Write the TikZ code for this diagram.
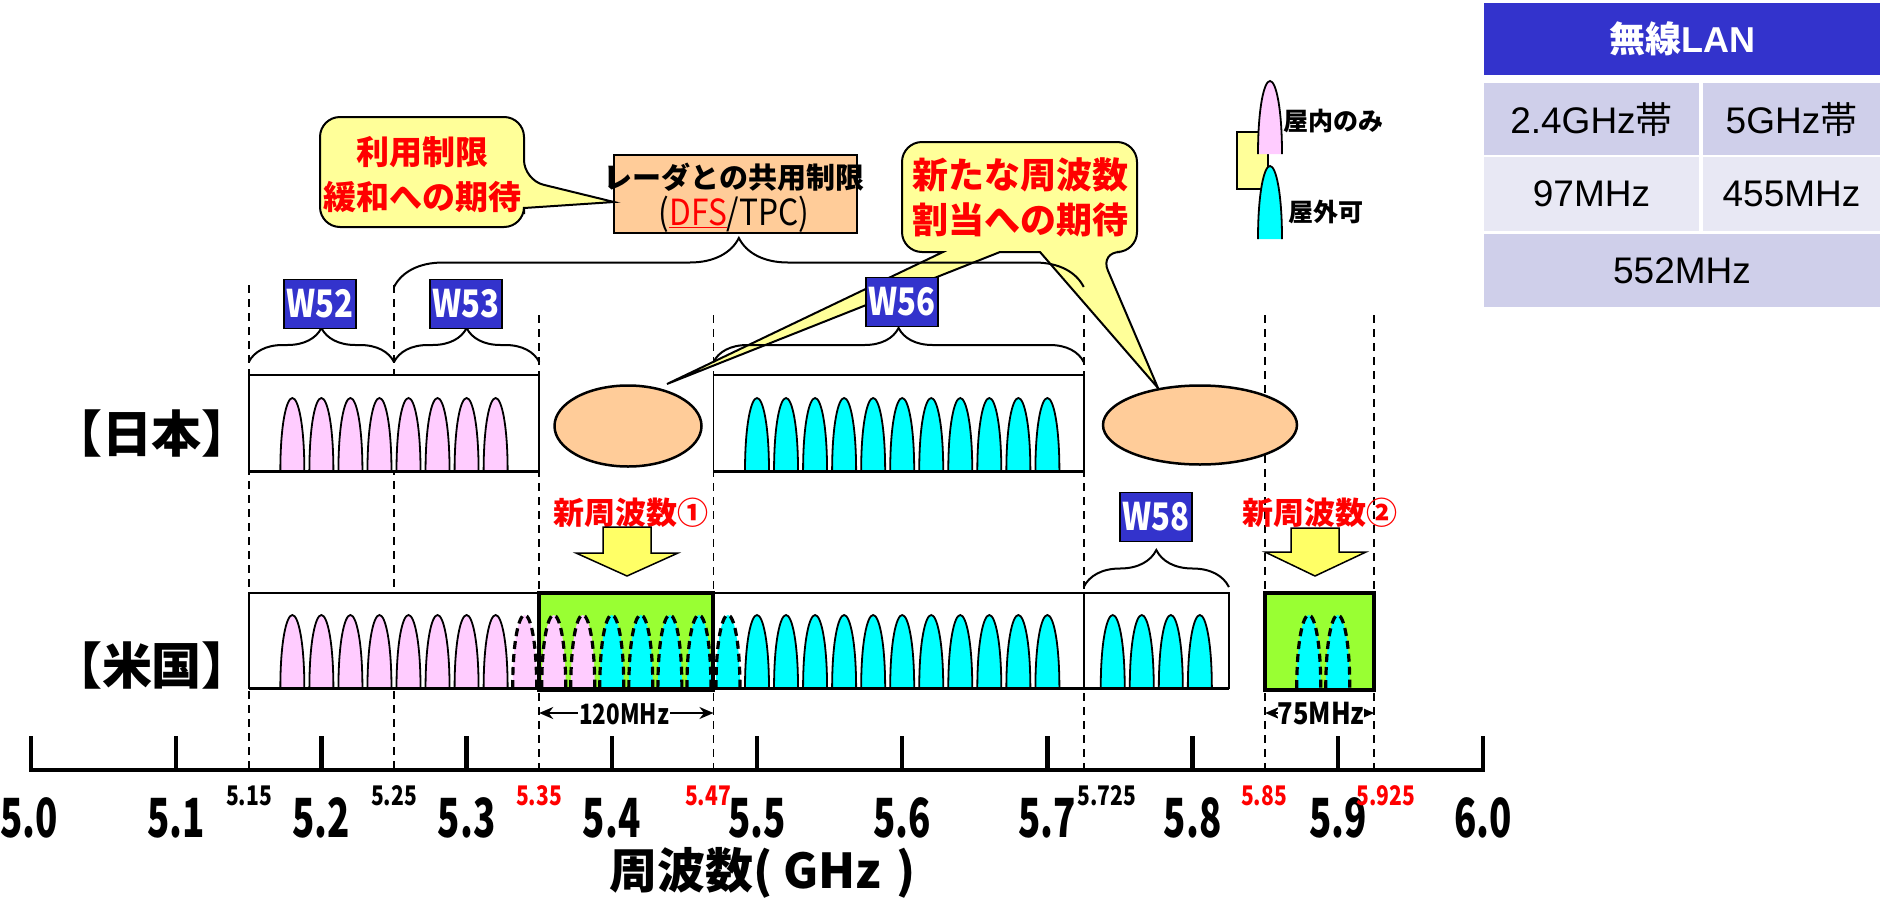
\documentclass[tikz,border=0pt]{standalone}
\usepackage{fontspec}
\usepackage{graphicx}
\usetikzlibrary{decorations.pathreplacing,arrows.meta,shapes.geometric}
\newfontfamily\jp{Noto Sans CJK JP}
\newfontfamily\arl{Liberation Sans}
\newcommand{\setfs}[1]{\fontsize{#1pt}{#1pt}\selectfont}
\newcommand{\cond}[2][0.78]{\scalebox{#1}[1]{#2}}
\definecolor{wblue}{RGB}{51,51,204}
\definecolor{lpink}{RGB}{255,204,255}
\definecolor{lcyan}{RGB}{0,255,255}
\definecolor{ngreen}{RGB}{153,255,51}
\definecolor{peach}{RGB}{255,204,153}
\definecolor{cyel}{RGB}{255,255,153}
\definecolor{ayel}{RGB}{255,255,102}
\definecolor{tabA}{RGB}{207,207,234}
\definecolor{tabB}{RGB}{232,232,244}
\begin{document}
\begin{tikzpicture}[x=1pt,y=-1pt,
  declare function={X(\f)=31+(\f-5)*1452;},
  lobe/.pic={\path[pic actions] (-12,0) .. controls (-12,-46) and (-6,-73) .. (0,-73) .. controls (6,-73) and (12,-46) .. (12,0);},
  plobe/.style={fill=lpink,draw=black,line width=1.8pt},
  clobe/.style={fill=lcyan,draw=black,line width=1.8pt},
  dplobe/.style={fill=lpink,draw=black,line width=3.2pt,dash pattern=on 8pt off 5pt},
  dclobe/.style={fill=lcyan,draw=black,line width=3.2pt,dash pattern=on 8pt off 5pt},
  dline/.style={draw=black,line width=1.6pt,dash pattern=on 8pt off 6pt},
  rowbox/.style={draw=black,line width=1.8pt,fill=white},
  wlabel/.style={fill=wblue,draw=black,line width=1.5pt,minimum width=72pt,minimum height=49pt,inner sep=0pt,text=white,font=\jp\bfseries\setfs{38}},
  brc/.style={decorate,decoration={brace,amplitude=#1},line width=2pt},
  callout/.style={fill=cyel,draw=black,line width=2pt},
  redtxt/.style={text=red,font=\jp\bfseries\setfs{36},inner sep=0pt},
  ellip/.style={ellipse,fill=peach,draw=black,line width=2.5pt,inner sep=0pt},
  downarrow/.style={fill=ayel,draw=black,line width=1.5pt},
  country/.style={font=\jp\bfseries\setfs{50},inner sep=0pt},
  bigtick/.style={font=\jp\bfseries\setfs{54},inner sep=0pt},
  smalltick/.style={font=\jp\bfseries\setfs{27},inner sep=0pt},
  cell/.style={inner sep=0pt,font=\arl\setfs{37}},
  meas/.style={{Stealth[length=14pt,width=12pt]}-{Stealth[length=14pt,width=12pt]},line width=2pt},
]
\useasboundingbox (0,0) rectangle (1880,900);

% dashed guide lines
\foreach \f/\t in {5.15/285,5.25/285,5.35/315,5.47/315,5.725/315,5.85/315,5.925/315}
  \draw[dline] ({X(\f)},\t) -- ({X(\f)},770);

% table
\node[fill=wblue,minimum width=396pt,minimum height=72pt,inner sep=0pt,text=white,font=\arl\bfseries\setfs{36}] (t0) at (1682,39) {{\jp\bfseries 無線}LAN};
\node[cell,fill=tabA,minimum width=215pt,minimum height=72pt] (t1) at (1591.5,119) {2.4GHz{\jp 帯}};
\node[cell,fill=tabA,minimum width=177pt,minimum height=72pt] (t2) at (1791.5,119) {5GHz{\jp 帯}};
\node[cell,fill=tabB,minimum width=215pt,minimum height=74pt] (t3) at (1591.5,194) {97MHz};
\node[cell,fill=tabB,minimum width=177pt,minimum height=74pt] (t4) at (1791.5,194) {455MHz};
\node[cell,fill=tabA,minimum width=396pt,minimum height=73pt] (t5) at (1682,270.5) {552MHz};

% legend
\draw[fill=cyel,draw=black,line width=2pt] (1237,132) rectangle (1268,189);
\pic[plobe] at (1270,154) {lobe};
\pic[clobe] at (1270,239) {lobe};
\node[anchor=west,font=\jp\bfseries\setfs{25},inner sep=0pt] (lg1) at (1283,121) {屋内のみ};
\node[anchor=west,font=\jp\bfseries\setfs{25},inner sep=0pt] (lg2) at (1288,212) {屋外可};

% callout 1 and DFS box
\node[draw=black,line width=2pt,fill=peach,minimum width=243pt,minimum height=78pt,inner sep=0pt] (dfs) at (735.5,194) {};
\node[font=\jp\bfseries\setfs{29},inner sep=0pt] (dfs1) at (734,177) {レーダとの共用制限};
\node[font=\jp\setfs{36},inner sep=0pt] (dfs2) at (734,214) {\cond[0.88]{(\textcolor{red}{\underline{DFS}}/TPC)}};
\draw[callout] (420,117) [rounded corners=20pt] -- (524,117) -- (524,180) [sharp corners] -- (614,202) -- (524,208) -- (524,214) [rounded corners=20pt] -- (524,227) -- (320,227) -- (320,117) -- cycle;
\node[redtxt,font=\jp\bfseries\setfs{33}] (c1a) at (422,152) {利用制限};
\node[redtxt,font=\jp\bfseries\setfs{33}] (c1b) at (422,197) {緩和への期待};

% callout 2
\draw[callout] (1020,142) [rounded corners=20pt] -- (1137,142) -- (1137,252) -- (1100,252) [sharp corners] -- (1158,388) -- (1040,252) -- (1000,252) -- (667,384) -- (943,252) -- (930,252) [rounded corners=20pt] -- (902,252) -- (902,142) -- cycle;
\node[redtxt] (c2a) at (1020,175) {新たな周波数};
\node[redtxt] (c2b) at (1020,220) {割当への期待};

% braces
\coordinate (bL) at ({X(5.25)},287);
\coordinate (bR) at ({X(5.725)},287);
\draw[brc=49pt] (bL) -- (bR);
\coordinate (p1) at ({X(5.15)},362);
\coordinate (p2) at ({X(5.25)},362);
\coordinate (p3) at ({X(5.35)},362);
\coordinate (p4) at ({X(5.47)},362);
\coordinate (p5) at ({X(5.725)},362);
\draw[brc=34pt] (p1) -- (p2);
\draw[brc=34pt] (p2) -- (p3);
\draw[brc=34pt] (p4) -- (p5);
\coordinate (q1) at ({X(5.725)},587);
\coordinate (q2) at ({X(5.825)},587);
\draw[brc=37pt] (q1) -- (q2);

% W labels
\node[wlabel] (w52) at (320,304) {\cond[0.82]{W52}};
\node[wlabel] (w53) at (466,304) {\cond[0.82]{W53}};
\node[wlabel] (w56) at (902,302) {\cond[0.82]{W56}};
\node[wlabel] (w58) at (1156,517) {\cond[0.82]{W58}};

% country labels
\node[country] (jp) at (152,433) {【日本】};
\node[country] (us) at (152,665) {【米国】};

% Japan row
\draw[rowbox] ({X(5.15)},375) rectangle ({X(5.35)},471);
\draw[rowbox] ({X(5.47)},375) rectangle ({X(5.725)},471);
\foreach \k in {0,...,7} \pic[plobe] at ({X(5.18)+29.04*\k},471) {lobe};
\foreach \k in {0,...,10} \pic[clobe] at ({X(5.50)+29.04*\k},471) {lobe};
\draw[line width=3pt] ({X(5.15)},471) -- ({X(5.35)},471);
\draw[line width=3pt] ({X(5.47)},471) -- ({X(5.725)},471);
\node[ellip,minimum width=147pt,minimum height=81pt] (e1) at (628,426) {};
\node[ellip,minimum width=194pt,minimum height=79pt] (e2) at (1200,425) {};

% arrows and new-band labels
\node[text=red,font=\jp\bfseries\setfs{31},inner sep=0pt] (nf1) at (631,513) {新周波数①};
\node[text=red,font=\jp\bfseries\setfs{31},inner sep=0pt] (nf2) at (1320,513) {新周波数②};
\draw[downarrow] (603,527) -- (651,527) -- (651,553) -- (678,553) -- (627,576) -- (576,553) -- (603,553) -- cycle;
\draw[downarrow] (1291,528) -- (1339,528) -- (1339,552) -- (1366,552) -- (1315,576) -- (1265,552) -- (1291,552) -- cycle;

% US row
\draw[rowbox] ({X(5.15)},593) rectangle ({X(5.725)},688);
\draw[rowbox] ({X(5.725)},593) rectangle ({X(5.825)},688);
\fill[ngreen] ({X(5.35)},593) rectangle ({X(5.47)},690);
\fill[ngreen] ({X(5.85)},593) rectangle ({X(5.925)},690);
\foreach \k in {0,...,7} \pic[plobe] at ({X(5.18)+29.04*\k},688) {lobe};
\foreach \f in {5.34,5.36,5.38} \pic[dplobe] at ({X(\f)},688) {lobe};
\foreach \f in {5.40,5.42,5.44,5.46,5.48} \pic[dclobe] at ({X(\f)},688) {lobe};
\foreach \k in {0,...,10} \pic[clobe] at ({X(5.50)+29.04*\k},688) {lobe};
\foreach \f in {5.745,5.765,5.785,5.805} \pic[clobe] at ({X(\f)},688) {lobe};
\foreach \f in {5.88,5.90} \pic[dclobe] at ({X(\f)},688) {lobe};
\draw[line width=3pt] ({X(5.15)},688) -- ({X(5.825)},688);
\draw[line width=4pt] ({X(5.35)},593) rectangle ({X(5.47)},690);
\draw[line width=4pt] ({X(5.85)},593) rectangle ({X(5.925)},690);

% bandwidth arrows
\coordinate (m1L) at ({X(5.35)},713);
\coordinate (m1R) at ({X(5.47)},713);
\draw[meas] (m1L) -- (m1R);
\node[fill=white,inner sep=1pt,font=\jp\bfseries\setfs{28}] (m1) at (624,714) {\cond[0.8]{120MHz}};
\coordinate (m2L) at ({X(5.85)},713);
\coordinate (m2R) at ({X(5.925)},713);
\draw[meas] (m2L) -- (m2R);
\node[fill=white,inner sep=0pt,font=\jp\bfseries\setfs{30}] (m2) at (1321,714) {\cond[0.85]{75MHz}};

% axis
\draw[line width=4.5pt] (29,770) -- (1485,770);
\foreach \i in {0,...,10} \draw[line width=4.5pt] ({31+145.2*\i},736) -- ({31+145.2*\i},770);
\foreach \i/\t in {1/5.1,2/5.2,3/5.3,4/5.4,5/5.5,6/5.6,7/5.7,8/5.8,9/5.9,10/6.0}
  \node[bigtick] (tl\i) at ({31+145.2*\i},818) {\cond[0.68]{\t}};
\node[bigtick] (tl0) at (29,818) {\cond[0.68]{5.0}};
\foreach \n/\f/\c/\xx in {1/5.15/black/249,2/5.25/black/394,3/5.35/red/539,4/5.47/red/708,5/5.725/black/1107,6/5.85/red/1264,7/5.925/red/1386}
  \node[smalltick,text=\c] (sl\n) at (\xx,796) {\cond[0.78]{\f}};
\node[font=\jp\bfseries\setfs{48},inner sep=0pt] (xlab) at (763,873) {周波数(\hspace{10pt}GHz\hspace{16pt})};
\end{tikzpicture}
\end{document}
